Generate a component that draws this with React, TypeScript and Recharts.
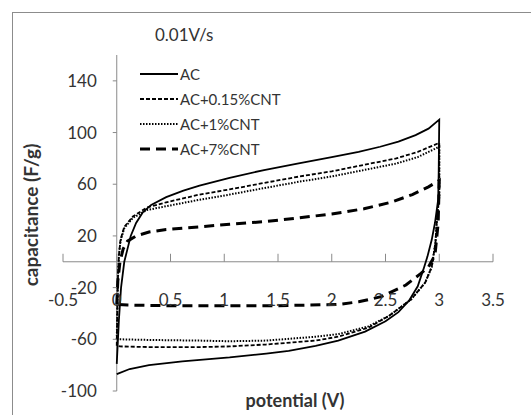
import React from 'react';
import { LineChart, Line, XAxis, YAxis, ReferenceLine, ReferenceDot } from 'recharts';

const xTicks = [-0.5, 0, 0.5, 1, 1.5, 2, 2.5, 3, 3.5];
const yTicks = [-100, -60, -20, 20, 60, 100, 140];
const xDomain = [-0.5, 3.5];
const yDomain = [-100, 160];

const seriesNames = ['AC', 'AC+0.15%CNT', 'AC+1%CNT', 'AC+7%CNT'];

const acPotential = [0, 0.02, 0.04, 0.07, 0.1, 0.13, 0.18, 0.24, 0.32, 0.46, 0.62, 0.77, 1.05, 1.37, 1.68, 2.0, 2.25, 2.45, 2.62, 2.78, 2.9, 3.0,
  3.0, 2.995, 2.99, 2.96, 2.93, 2.89, 2.86, 2.8, 2.72, 2.62, 2.5, 2.31, 2.06, 1.85, 1.6, 1.39, 1.05, 0.61, 0.3, 0.12, 0];
const acCapacitance = [-79, -45, -20, 0, 10, 20, 30, 38, 44, 50, 55, 59, 65, 71, 76, 81, 85, 89, 93, 98, 103, 110,
  110, 70, 48, 30, 17, 4, -4, -19, -30, -39, -46, -54, -61, -65, -69, -71, -74, -77, -80, -83, -87];

const cnt015Potential = [0, 0.005, 0.01, 0.02, 0.035, 0.07, 0.15, 0.28, 0.46, 0.77, 1.05, 1.37, 1.7, 2.0, 2.3, 2.6, 2.8, 3.0,
  3.0, 2.98, 2.965, 2.93, 2.87, 2.74, 2.53, 2.34, 2.06, 1.85, 1.39, 1.05, 0.77, 0.3, 0.03, 0];
const cnt015Capacitance = [-65, -40, -15, 5, 17, 27, 35, 42, 46, 52, 56, 61, 66, 70, 75, 80, 85, 92,
  50, 35, 15, -4, -16, -29, -42, -51, -58, -61, -64, -65.5, -66, -66, -65.5, -65];

const cnt1Potential = [0, 0.005, 0.01, 0.02, 0.035, 0.07, 0.15, 0.28, 0.46, 0.77, 1.05, 1.37, 1.7, 2.0, 2.3, 2.6, 2.8, 3.0,
  3.0, 2.98, 2.965, 2.93, 2.87, 2.74, 2.53, 2.34, 2.06, 1.85, 1.39, 1.05, 0.77, 0.3, 0.03, 0];
const cnt1Capacitance = [-60, -40, -15, 5, 16, 26, 34, 40, 43, 48, 52, 57, 62, 66, 71, 76, 81, 89,
  50, 35, 15, -4, -16, -29, -42, -50, -56, -58, -61, -61.5, -61, -60.5, -60, -60];

const cnt7Potential = [0, 0.01, 0.03, 0.06, 0.1, 0.18, 0.3, 0.46, 0.77, 1.05, 1.37, 1.7, 2.0, 2.3, 2.55, 2.75, 2.9, 3.0,
  2.99, 2.96, 2.9, 2.83, 2.69, 2.46, 2.25, 2.06, 1.5, 1.0, 0.5, 0.1, 0];
const cnt7Capacitance = [-33, -15, 0, 10, 16, 20, 23, 25, 27, 29, 31, 34, 37, 41, 46, 52, 58, 63,
  30, 5, -4, -9, -18, -27, -31, -33, -34, -34, -34, -33.5, -33];

const toPoints = (xs: number[], ys: number[]) => xs.map((x, i) => ({ x, y: ys[i] }));

const series = [
  { name: seriesNames[0], data: toPoints(acPotential, acCapacitance), dash: undefined, width: 1.8 },
  { name: seriesNames[1], data: toPoints(cnt015Potential, cnt015Capacitance), dash: '4 2', width: 1.8 },
  { name: seriesNames[2], data: toPoints(cnt1Potential, cnt1Capacitance), dash: '1.5 1.5', width: 2 },
  { name: seriesNames[3], data: toPoints(cnt7Potential, cnt7Capacitance), dash: '10 6', width: 3 },
];

const FONT = 'Lato, "Open Sans", sans-serif';
const AXIS = '#8a8a8a';
const TEXT = '#333';

export default function App() {
  return (
    <div style={{ position: 'absolute', left: 0, top: 0, width: 531, height: 415, background: '#fff', fontFamily: FONT, overflow: 'hidden' }}>
      <div style={{ position: 'absolute', left: 12, top: 12, width: 540, height: 420, borderTop: '1px solid #8c8c8c', borderLeft: '1px solid #8c8c8c' }} />
      <div style={{ position: 'absolute', left: 0, top: 0 }}>
        <LineChart width={531} height={415} margin={{ top: 55, right: 38, bottom: 24, left: 63 }}>
          <XAxis type="number" dataKey="x" domain={xDomain} hide allowDataOverflow />
          <YAxis type="number" dataKey="y" domain={yDomain} hide allowDataOverflow />
          <ReferenceLine y={0} stroke={AXIS} strokeWidth={1} />
          <ReferenceLine x={0} stroke={AXIS} strokeWidth={1} />
          {xTicks.map((v) => (
            <ReferenceDot key={'xt' + v} x={v} y={0} r={0} ifOverflow="visible"
              shape={(p: any) => (
                <g>
                  <line x1={p.cx} y1={p.cy} x2={p.cx} y2={p.cy - 8} stroke={AXIS} />
                  <text x={p.cx} y={p.cy + 44} textAnchor="middle" fontSize={17} fill={TEXT} fontFamily={FONT}>{String(v)}</text>
                </g>
              )} />
          ))}
          {yTicks.map((v) => (
            <ReferenceDot key={'yt' + v} x={0} y={v} r={0} ifOverflow="visible"
              shape={(p: any) => (
                <g>
                  <line x1={p.cx} y1={p.cy} x2={p.cx - 4} y2={p.cy} stroke={AXIS} />
                  <text x={p.cx - 20} y={p.cy + 6} textAnchor="end" fontSize={17} fill={TEXT} fontFamily={FONT}>{String(v)}</text>
                </g>
              )} />
          ))}
          {series.map((s) => (
            <Line key={s.name} data={s.data} dataKey="y" name={s.name} type="linear" stroke="#000"
              strokeWidth={s.width} strokeDasharray={s.dash} dot={false} activeDot={false}
              isAnimationActive={false} />
          ))}
        </LineChart>
      </div>
      <div style={{ position: 'absolute', left: 155, top: 24, fontSize: 17, color: TEXT, lineHeight: '22px' }}>0.01V/s</div>
      <div style={{ position: 'absolute', left: 140, top: 61 }}>
        {series.map((s) => (
          <div key={s.name} style={{ display: 'flex', alignItems: 'center', height: 25 }}>
            <svg width={40} height={10} style={{ display: 'block' }}>
              <line x1={0} y1={5} x2={38} y2={5} stroke="#000" strokeWidth={s.width} strokeDasharray={s.dash} />
            </svg>
            <span style={{ fontSize: 15, color: TEXT, lineHeight: '20px' }}>{s.name}</span>
          </div>
        ))}
      </div>
      <div style={{ position: 'absolute', left: 30, top: 215, transform: 'translate(-50%, -50%) rotate(-90deg)', whiteSpace: 'nowrap', fontSize: 19, fontWeight: 700, color: TEXT }}>capacitance (F/g)</div>
      <div style={{ position: 'absolute', left: 295, top: 400, transform: 'translate(-50%, -50%)', whiteSpace: 'nowrap', fontSize: 18, fontWeight: 700, color: TEXT }}>potential (V)</div>
    </div>
  );
}
